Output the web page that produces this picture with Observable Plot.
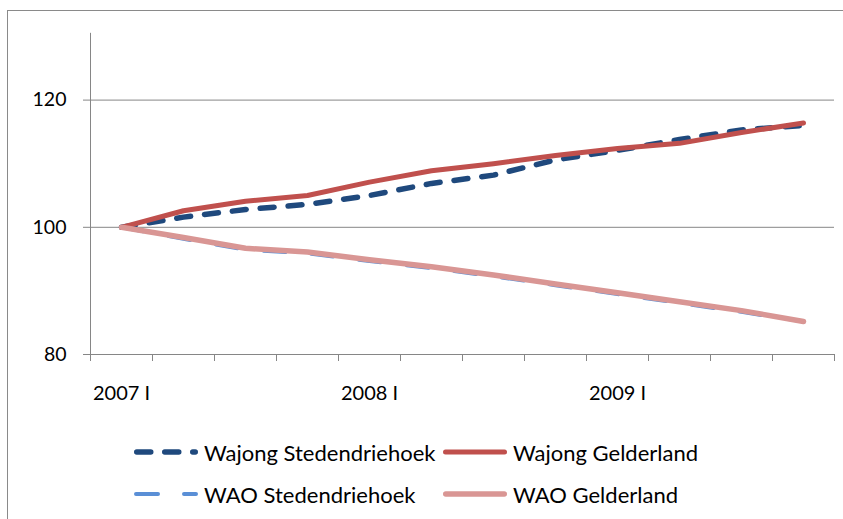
<!DOCTYPE html>
<html>
<head>
<meta charset="utf-8">
<script src="https://cdn.jsdelivr.net/npm/d3@7"></script>
<script src="https://cdn.jsdelivr.net/npm/@observablehq/plot@0.6"></script>
<style>
  html, body { margin: 0; padding: 0; background: #fff; }
  #wrap { position: relative; width: 843px; height: 519px; overflow: hidden; font-family: Lato, sans-serif; }
  #frame { position: absolute; left: 7px; top: 10px; width: 900px; height: 600px; border: 1px solid #8a8a8a; box-sizing: border-box; }
  #chart { position: absolute; left: 0; top: 0; }
  .leg { position: absolute; display: flex; align-items: center; font-size: 22px; color: #000; white-space: nowrap; }
  .leg svg { margin-right: 6px; }
</style>
</head>
<body>
<div id="wrap">
  <div id="frame"></div>
  <div id="chart"></div>
  <div id="legend"></div>
</div>
<script>
const quarters = ["2007 I","2007 II","2007 III","2007 IV","2008 I","2008 II","2008 III","2008 IV","2009 I","2009 II","2009 III","2009 IV"];
const seriesNames = ["Wajong Stedendriehoek","Wajong Gelderland","WAO Stedendriehoek","WAO Gelderland"];
const wajongSteden = [100, 101.6, 102.8, 103.6, 105.0, 106.9, 108.2, 110.6, 112.1, 113.8, 115.3, 116.0];
const wajongGeld   = [100, 102.6, 104.1, 105.0, 107.1, 108.9, 110.0, 111.3, 112.4, 113.2, 114.9, 116.4];
const waoSteden    = [100, 98.2, 96.5, 95.9, 94.7, 93.6, 92.3, 90.9, 89.5, 88.1, 86.7, 85.2];
const waoGeld      = [100, 98.4, 96.7, 96.1, 94.9, 93.8, 92.5, 91.1, 89.7, 88.3, 86.9, 85.2];
const yTicks = [80, 100, 120];
const xLabelIdx = [0, 4, 8];

const styles = [
  {stroke: "#1F497D", strokeWidth: 5.5, dash: "14,14"},
  {stroke: "#C0504D", strokeWidth: 5, dash: null},
  {stroke: "#5A8FD6", strokeWidth: 4, dash: "22,26"},
  {stroke: "#D99694", strokeWidth: 5.5, dash: null}
];
const values = [wajongSteden, wajongGeld, waoSteden, waoGeld];
const rows = values.map(v => v.map((y, i) => ({i, y})));
const boundaries = d3.range(quarters.length + 1).map(k => k - 0.5);

const lineMarks = rows.map((r, k) => Plot.line(r, {
  x: "i", y: "y", stroke: styles[k].stroke, strokeWidth: styles[k].strokeWidth,
  strokeDasharray: styles[k].dash || undefined, strokeLinecap: "round", strokeLinejoin: "round"
}));

const chart = Plot.plot({
  width: 843, height: 420,
  marginLeft: 90, marginRight: 9, marginTop: 36, marginBottom: 66,
  style: {fontFamily: "Lato, sans-serif", fontSize: "19.5px", background: "transparent", color: "#000"},
  x: {domain: [-0.5, quarters.length - 0.5]},
  y: {domain: [80, 130]},
  marks: [
    Plot.ruleY(yTicks, {stroke: "#868686", strokeWidth: 1}),
    Plot.ruleX([-0.5], {y1: 80, y2: 130.5, stroke: "#868686", strokeWidth: 1}),
    Plot.axisY({ticks: yTicks, tickSize: 7, tickPadding: 17, stroke: "#868686", fill: "#000", label: null, tickFormat: d => String(d)}),
    Plot.axisX({ticks: boundaries, tickSize: 7, stroke: "#868686", tickFormat: () => "", label: null}),
    Plot.axisX({ticks: xLabelIdx, tickSize: 0, tickPadding: 31, fill: "#000", fontSize: 20, tickFormat: i => quarters[i], label: null}),
    ...lineMarks
  ]
});
document.getElementById("chart").appendChild(chart);

// Legend
const legPos = [
  {left: 134, top: 452}, {left: 443, top: 452},
  {left: 134, top: 494}, {left: 443, top: 494}
];
const legend = document.getElementById("legend");
seriesNames.forEach((name, k) => {
  const s = styles[k];
  const div = document.createElement("div");
  div.className = "leg";
  div.style.left = legPos[k].left + "px";
  div.style.top = (legPos[k].top - 13) + "px";
  div.style.height = "26px";
  const w = 64, sw = s.strokeWidth;
  div.innerHTML = `<svg width="${w}" height="12" style="overflow:visible"><line x1="${sw/2}" x2="${w - sw/2}" y1="6" y2="6" stroke="${s.stroke}" stroke-width="${sw}" stroke-linecap="round" ${s.dash ? `stroke-dasharray="${s.dash}"` : ""}/></svg><span>${name}</span>`;
  legend.appendChild(div);
});
</script>
</body>
</html>
